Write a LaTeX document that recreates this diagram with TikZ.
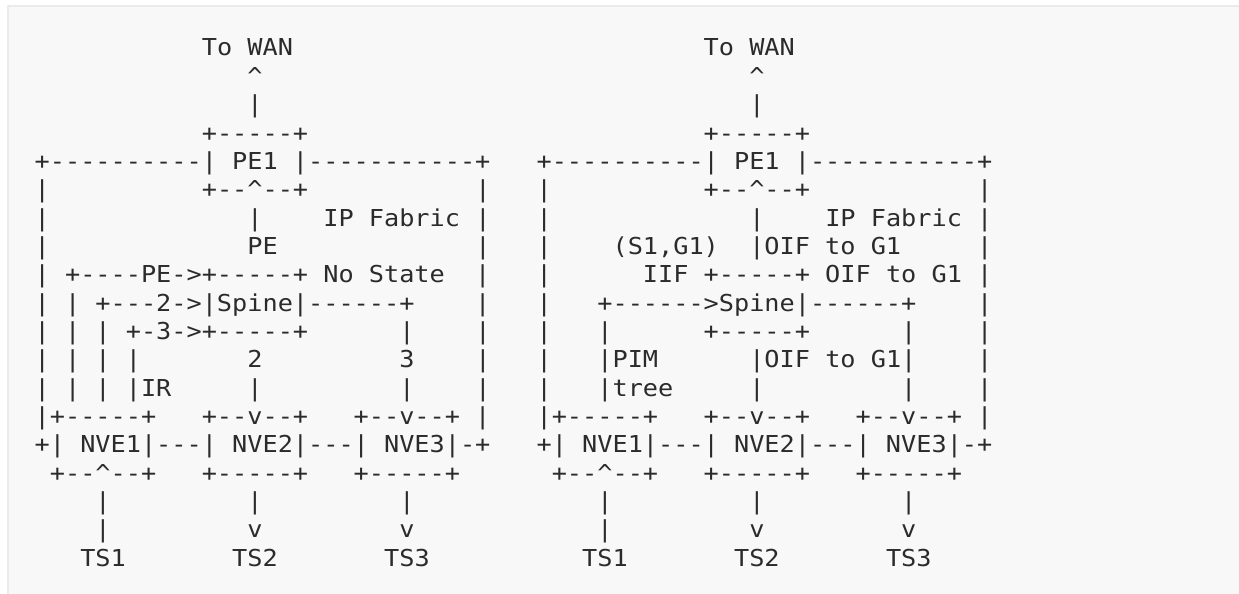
\documentclass[tikz,border=0pt]{standalone}
\usepackage{fontspec}
\setmonofont[FakeStretch=1.083]{DejaVu Sans Mono}
\definecolor{pagebg}{HTML}{F8F8F8}
\definecolor{pageedge}{HTML}{EBEBEB}
\definecolor{asciitext}{HTML}{2B2B2B}
\newcommand{\up}{\textasciicircum}
\tikzset{
  row/.style={anchor=base west, inner sep=0pt, outer sep=0pt, text=asciitext,
    font=\ttfamily\fontsize{23.3}{28.33}\selectfont},
}
\begin{document}
\begin{tikzpicture}[x=1pt,y=-1pt]
  \useasboundingbox (0,0) rectangle (1239,594);
  \fill[white] (0,0) rectangle (1239,594);
  \fill[pagebg] (7,5) rectangle (1239,594);
  \draw[pageedge, line width=2.5pt] (8.2,594) -- (8.2,6.2) -- (1239,6.2);
  % left: ingress replication
  \node[row] (L0)  at (34.7,56.0)  {~~~~~~~~~~~To~WAN};
  \node[row] (L1)  at (34.7,84.3)  {~~~~~~~~~~~~~~\up};
  \node[row] (L2)  at (34.7,112.7) {~~~~~~~~~~~~~~|};
  \node[row] (L3)  at (34.7,141.0) {~~~~~~~~~~~+-----+};
  \node[row] (L4)  at (34.7,169.3) {+----------|~PE1~|-----------+};
  \node[row] (L5)  at (34.7,197.7) {|~~~~~~~~~~+--\up--+~~~~~~~~~~~|};
  \node[row] (L6)  at (34.7,226.0) {|~~~~~~~~~~~~~|~~~~IP~Fabric~|};
  \node[row] (L7)  at (34.7,254.3) {|~~~~~~~~~~~~~PE~~~~~~~~~~~~~|};
  \node[row] (L8)  at (34.7,282.6) {|~+----PE->+-----+~No~State~~|};
  \node[row] (L9)  at (34.7,311.0) {|~|~+---2->|Spine|------+~~~~|};
  \node[row] (L10) at (34.7,339.3) {|~|~|~+-3->+-----+~~~~~~|~~~~|};
  \node[row] (L11) at (34.7,367.6) {|~|~|~|~~~~~~~2~~~~~~~~~3~~~~|};
  \node[row] (L12) at (34.7,396.0) {|~|~|~|IR~~~~~|~~~~~~~~~|~~~~|};
  \node[row] (L13) at (34.7,424.3) {|+-----+~~~+--v--+~~~+--v--+~|};
  \node[row] (L14) at (34.7,452.6) {+|~NVE1|---|~NVE2|---|~NVE3|-+};
  \node[row] (L15) at (34.7,481.0) {~+--\up--+~~~+-----+~~~+-----+};
  \node[row] (L16) at (34.7,509.3) {~~~~|~~~~~~~~~|~~~~~~~~~|};
  \node[row] (L17) at (34.7,537.6) {~~~~|~~~~~~~~~v~~~~~~~~~v};
  \node[row] (L18) at (34.7,566.0) {~~~TS1~~~~~~~TS2~~~~~~~TS3};
  % right: PIM tree
  \node[row] (R0)  at (536.6,56.0)  {~~~~~~~~~~~To~WAN};
  \node[row] (R1)  at (536.6,84.3)  {~~~~~~~~~~~~~~\up};
  \node[row] (R2)  at (536.6,112.7) {~~~~~~~~~~~~~~|};
  \node[row] (R3)  at (536.6,141.0) {~~~~~~~~~~~+-----+};
  \node[row] (R4)  at (536.6,169.3) {+----------|~PE1~|-----------+};
  \node[row] (R5)  at (536.6,197.7) {|~~~~~~~~~~+--\up--+~~~~~~~~~~~|};
  \node[row] (R6)  at (536.6,226.0) {|~~~~~~~~~~~~~|~~~~IP~Fabric~|};
  \node[row] (R7)  at (536.6,254.3) {|~~~~(S1,G1)~~|OIF~to~G1~~~~~|};
  \node[row] (R8)  at (536.6,282.6) {|~~~~~~IIF~+-----+~OIF~to~G1~|};
  \node[row] (R9)  at (536.6,311.0) {|~~~+------>Spine|------+~~~~|};
  \node[row] (R10) at (536.6,339.3) {|~~~|~~~~~~+-----+~~~~~~|~~~~|};
  \node[row] (R11) at (536.6,367.6) {|~~~|PIM~~~~~~|OIF~to~G1|~~~~|};
  \node[row] (R12) at (536.6,396.0) {|~~~|tree~~~~~|~~~~~~~~~|~~~~|};
  \node[row] (R13) at (536.6,424.3) {|+-----+~~~+--v--+~~~+--v--+~|};
  \node[row] (R14) at (536.6,452.6) {+|~NVE1|---|~NVE2|---|~NVE3|-+};
  \node[row] (R15) at (536.6,481.0) {~+--\up--+~~~+-----+~~~+-----+};
  \node[row] (R16) at (536.6,509.3) {~~~~|~~~~~~~~~|~~~~~~~~~|};
  \node[row] (R17) at (536.6,537.6) {~~~~|~~~~~~~~~v~~~~~~~~~v};
  \node[row] (R18) at (536.6,566.0) {~~~TS1~~~~~~~TS2~~~~~~~TS3};
\end{tikzpicture}
\end{document}
